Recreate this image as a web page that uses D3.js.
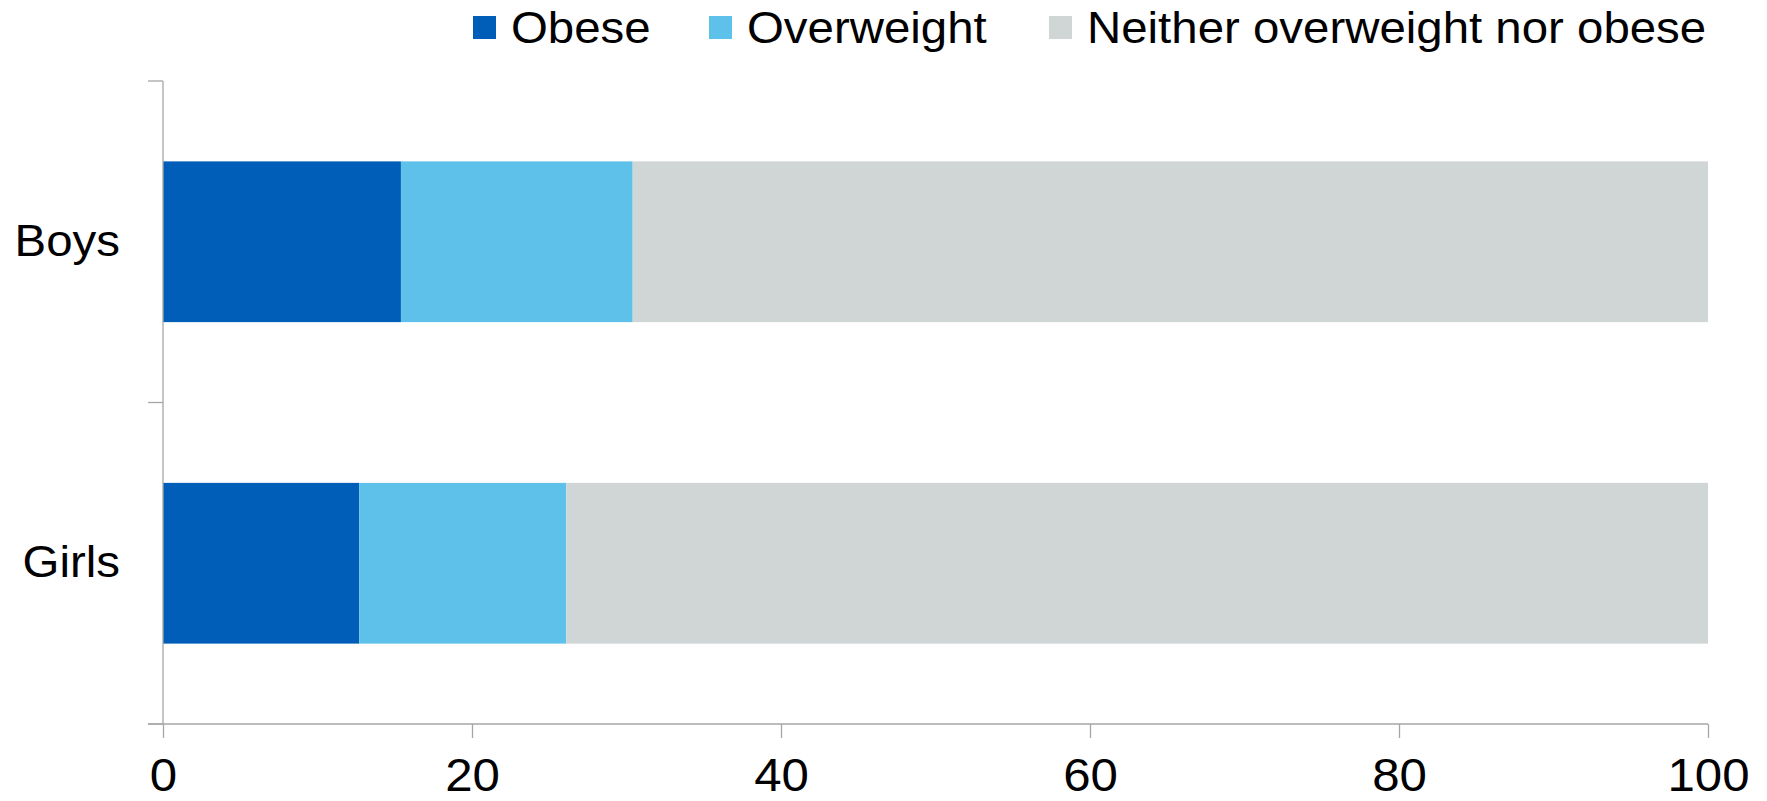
<!DOCTYPE html>
<html>
<head>
<meta charset="utf-8">
<script src="https://cdn.jsdelivr.net/npm/d3@7"></script>
<style>
  html, body { margin: 0; padding: 0; background: #ffffff; }
  svg { display: block; }
  text { font-family: "Liberation Sans", Arial, sans-serif; fill: #000; }
</style>
</head>
<body>
<svg id="chart" width="1767" height="801"></svg>
<script>
// Share of children by weight status (%)
const categories = ["Boys", "Girls"];
const seriesNames = ["Obese", "Overweight", "Neither overweight nor obese"];
const obese = [15.4, 12.7];
const overweight = [15.0, 13.4];
const neither = [69.6, 73.9];
const xTicks = [0, 20, 40, 60, 80, 100];
const colors = ["#005EB8", "#5EC1E9", "#D0D5D5"];

const W = 1767, H = 801;
const margin = { top: 81, right: 59, bottom: 77, left: 163 };
const axisColor = "#a6a6a6";
const labelStretch = 1.09;
const tickStretch = 1.07;

const svg = d3.select("#chart");

const rows = categories.map((c, i) => ({
  cat: c,
  [seriesNames[0]]: obese[i],
  [seriesNames[1]]: overweight[i],
  [seriesNames[2]]: neither[i]
}));
const stacked = d3.stack().keys(seriesNames)(rows);

const x = d3.scaleLinear().domain([0, 100]).range([margin.left, W - margin.right]);
const y = d3.scaleBand().domain(categories)
  .range([margin.top, H - margin.bottom])
  .paddingInner(0.5).paddingOuter(0.25);

// Bars
svg.append("g").selectAll("g")
  .data(stacked)
  .join("g")
  .attr("fill", (d, i) => colors[i])
  .selectAll("rect")
  .data(d => d)
  .join("rect")
  .attr("x", d => x(d[0]))
  .attr("y", d => y(d.data.cat))
  .attr("width", d => x(d[1]) - x(d[0]))
  .attr("height", y.bandwidth());

// Category axis: line plus ticks at band boundaries
const step = y.step();
const yTop = y.range()[0], yBottom = y.range()[1];
const bounds = d3.range(categories.length + 1).map(i => yTop + i * step);
const yAxis = svg.append("g");
yAxis.append("line")
  .attr("x1", margin.left).attr("x2", margin.left)
  .attr("y1", yTop).attr("y2", yBottom)
  .attr("stroke", axisColor).attr("stroke-width", 1.3);
yAxis.selectAll("line.tick")
  .data(bounds)
  .join("line")
  .attr("class", "tick")
  .attr("x1", margin.left - 15).attr("x2", margin.left)
  .attr("y1", d => d).attr("y2", d => d)
  .attr("stroke", axisColor).attr("stroke-width", 1.3);
yAxis.selectAll("g.lab")
  .data(categories)
  .join("g")
  .attr("class", "lab")
  .attr("transform", d => `translate(120,${y(d) + y.bandwidth() / 2 + 14}) scale(${labelStretch},1)`)
  .append("text")
  .attr("text-anchor", "end")
  .attr("font-size", 43.5)
  .text(d => d);

// Value axis
const xAxis = svg.append("g")
  .attr("transform", `translate(0,${yBottom})`)
  .call(d3.axisBottom(x).tickValues(xTicks).tickSize(14).tickSizeOuter(0).tickPadding(0));
xAxis.select(".domain").remove();
xAxis.append("line")
  .attr("x1", margin.left - 15).attr("x2", x(100))
  .attr("y1", 0).attr("y2", 0)
  .attr("stroke", axisColor).attr("stroke-width", 1.3);
xAxis.selectAll(".tick line").attr("stroke", axisColor).attr("stroke-width", 1.3);
xAxis.selectAll(".tick text")
  .attr("y", 67)
  .attr("dy", null)
  .attr("font-size", 46)
  .attr("font-family", "Liberation Sans, Arial, sans-serif")
  .attr("fill", "#000")
  .attr("transform", `scale(${tickStretch},1)`);

// Legend
const legendX = [473, 709, 1049];
const legend = svg.append("g");
const item = legend.selectAll("g")
  .data(seriesNames)
  .join("g")
  .attr("transform", (d, i) => `translate(${legendX[i]},16)`);
item.append("rect")
  .attr("width", 23).attr("height", 23)
  .attr("fill", (d, i) => colors[i]);
item.append("g")
  .attr("transform", `translate(38,27) scale(${labelStretch},1)`)
  .append("text")
  .attr("font-size", 43.5)
  .text(d => d);
</script>
</body>
</html>
